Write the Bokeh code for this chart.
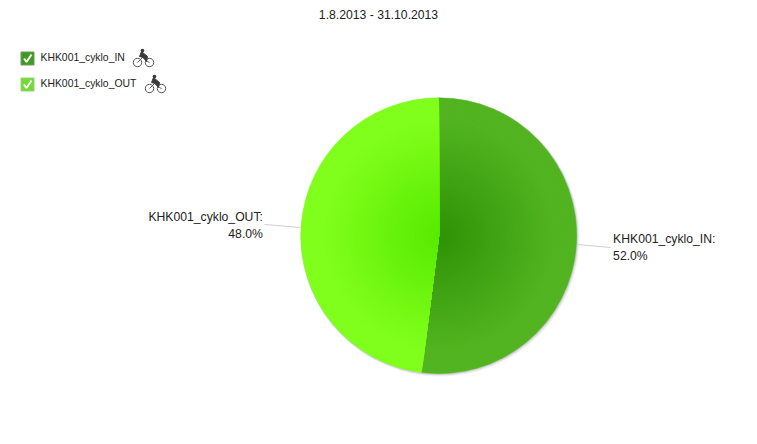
import numpy as np
from bokeh.plotting import figure
from bokeh.core.properties import value
from bokeh.embed import file_html
from bokeh.resources import INLINE

W, H = 741, 428
categories = ["KHK001_cyklo_IN", "KHK001_cyklo_OUT"]
shares = [52.0, 48.0]
percent_labels = ["52.0%", "48.0%"]
title = "1.8.2013 - 31.10.2013"
FONT = value("Liberation Sans")


def X(px):
    return px


def Y(py):
    return H - py


p = figure(width=W, height=H, x_range=(0, W), y_range=(0, H), toolbar_location=None,
           output_backend="svg", min_border=0, outline_line_color=None,
           background_fill_color="white", border_fill_color="white")
p.axis.visible = False
p.grid.visible = False

cx, cy, R = X(438.2), Y(235.2), 138

# soft shadow
for off, rad, a in [(1.5, R + 1.5, 0.06), (1, R + 1, 0.10), (0.6, R + 0.5, 0.16)]:
    p.circle(x=[cx + off], y=[cy - off], radius=rad, fill_color="#555555", fill_alpha=a, line_color=None)

# slices with radial gradients
inner = [(0x2e, 0x92, 0x06), (0x58, 0xea, 0x00)]
outer = [(0x52, 0xb4, 0x20), (0x80, 0xff, 0x1c)]
bounds = np.cumsum([0] + shares) / sum(shares) * 2 * np.pi
STEPS = 46
for i in range(2):
    start = np.pi / 2 - bounds[i]
    end = np.pi / 2 - bounds[i + 1]
    for s in range(STEPS, 0, -1):
        t = s / STEPS
        k = min(1.0, t / 0.85)
        c = tuple(int(round(inner[i][j] + (outer[i][j] - inner[i][j]) * k)) for j in range(3))
        col = "#%02x%02x%02x" % c
        p.wedge(x=[cx], y=[cy], radius=R * t, start_angle=start, end_angle=end,
                direction="clock", fill_color=col, line_color=col, line_width=0.4)

# connector lines
p.line(x=[X(577), X(610)], y=[Y(244), Y(247)], line_color="#cfcfcf", line_width=1)
p.line(x=[X(264), X(300)], y=[Y(224), Y(227)], line_color="#cfcfcf", line_width=1)

# data labels
p.text(x=[X(612.6)], y=[Y(238)], text=[categories[0] + ":"], text_font=FONT, text_font_size="12.2px",
       text_color="#222222", text_align="left", text_baseline="middle")
p.text(x=[X(612.6)], y=[Y(255)], text=[percent_labels[0]], text_font=FONT, text_font_size="12.2px",
       text_color="#222222", text_align="left", text_baseline="middle")
p.text(x=[X(262.4)], y=[Y(216)], text=[categories[1] + ":"], text_font=FONT, text_font_size="12.2px",
       text_color="#222222", text_align="right", text_baseline="middle")
p.text(x=[X(262.4)], y=[Y(233)], text=[percent_labels[1]], text_font=FONT, text_font_size="12.2px",
       text_color="#222222", text_align="right", text_baseline="middle")

# title
p.text(x=[X(378)], y=[Y(14)], text=[title], text_font=FONT, text_font_size="12.2px",
       text_color="#222222", text_align="center", text_baseline="middle")

# legend
legend_rows = [(58, 27, 143, "#3f9a22", "#6f9a60"), (84, 27, 155, "#6fdc34", "#9fcf80")]
for (py, bx, ix, col, edge), name in zip(legend_rows, categories):
    p.rect(x=[X(bx)], y=[Y(py)], width=13, height=13, fill_color=col, line_color=edge, line_width=1)
    p.line(x=[X(bx - 3.5), X(bx - 1), X(bx + 4)], y=[Y(py), Y(py + 3.5), Y(py - 4)],
           line_color="white", line_width=2)
    p.text(x=[X(40)], y=[Y(py - 1)], text=[name], text_font=FONT, text_font_size="10.4px",
           text_color="#222222", text_align="left", text_baseline="middle")
    # bicycle rider icon
    p.circle(x=[X(ix - 6), X(ix + 6)], y=[Y(py + 4), Y(py + 4)], radius=4.2,
             fill_color=None, line_color="#555555", line_width=1)
    p.line(x=[X(ix - 6), X(ix - 1), X(ix + 4), X(ix + 6)],
           y=[Y(py + 4), Y(py - 1), Y(py + 3), Y(py + 4)], line_color="#555555", line_width=1)
    p.patch(x=[X(ix - 4), X(ix - 2), X(ix + 4), X(ix + 3), X(ix)],
            y=[Y(py - 2), Y(py - 7), Y(py - 2), Y(py + 3), Y(py - 1)], fill_color="#3a3a3a", line_color="#3a3a3a")
    p.circle(x=[X(ix - 1)], y=[Y(py - 8)], radius=1.8, fill_color="#3a3a3a", line_color=None)

open("out.html", "w").write(file_html(p, INLINE))
